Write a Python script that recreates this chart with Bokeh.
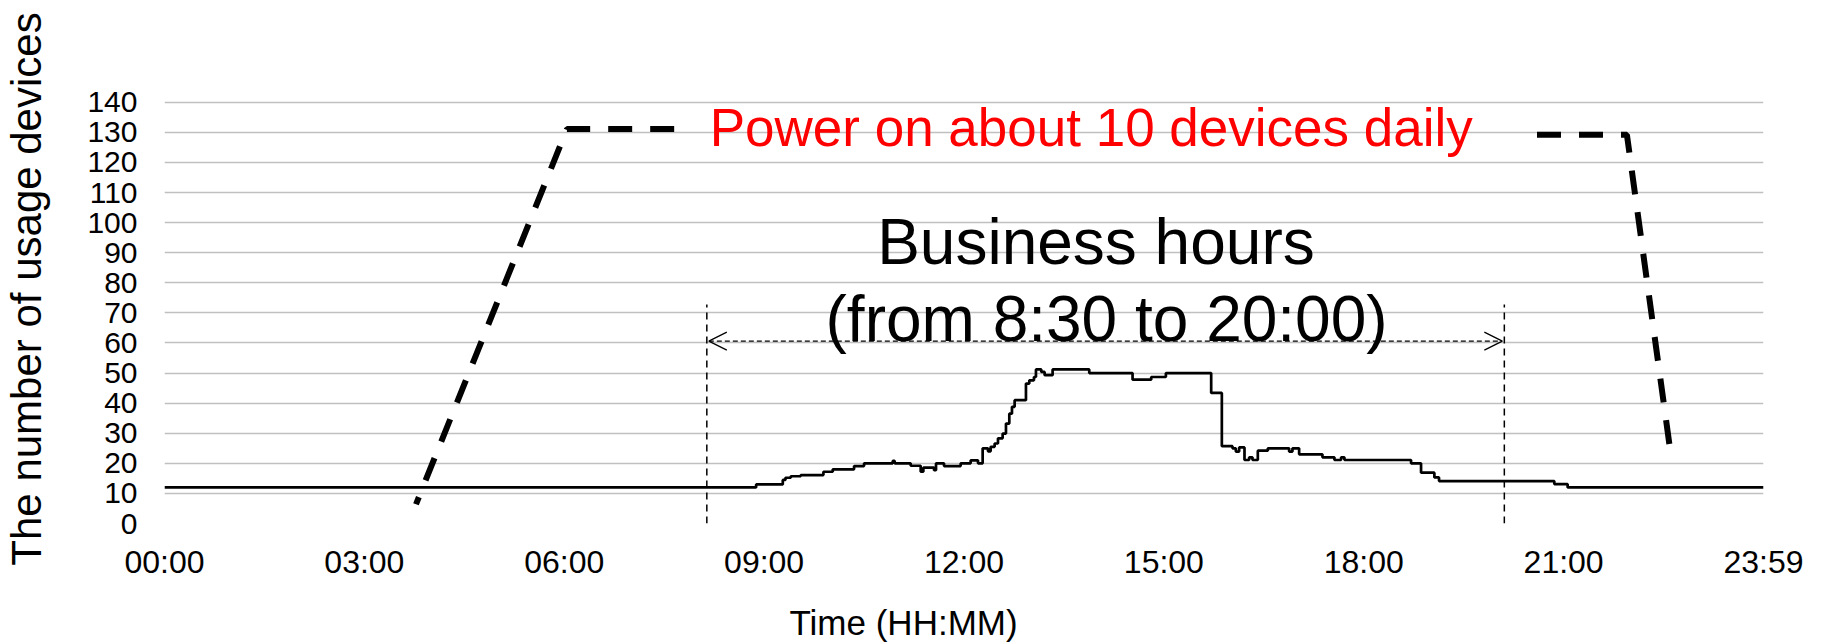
from bokeh.plotting import figure
from bokeh.models import (Range1d, FixedTicker, Label, Arrow, OpenHead, Title)
from bokeh.embed import file_html
from bokeh.resources import INLINE

# ---------------- data (hours, number of devices) ----------------
usage_hours = [0.00, 8.88, 9.28, 9.32, 9.40, 9.55, 9.89, 10.03, 10.35, 10.50,
               10.93, 10.96, 11.20, 11.35, 11.39, 11.55, 11.58, 11.70, 11.95,
               12.10, 12.21, 12.28, 12.36, 12.40, 12.46, 12.51, 12.58, 12.63,
               12.68, 12.72, 12.76, 12.93, 12.98, 13.05, 13.08, 13.16, 13.21,
               13.33, 13.88, 14.53, 14.81, 15.03, 15.71, 15.87, 16.03, 16.08,
               16.13, 16.21, 16.28, 16.33, 16.41, 16.56, 16.88, 16.93, 17.03,
               17.38, 17.56, 17.66, 17.71, 18.71, 18.86, 19.06, 19.13, 20.86,
               21.06, 24.00]
usage_devices = [12.0, 13.0, 14.5, 15.2, 15.7, 16.1, 17.2, 18.0, 19.1, 20.0,
                 20.8, 20.0, 19.2, 17.2, 18.6, 17.7, 20.0, 19.1, 20.0,
                 21.0, 20.0, 25.0, 24.0, 25.5, 26.6, 28.3, 29.9, 33.2,
                 36.5, 38.8, 41.0, 46.5, 47.6, 48.7, 51.2, 50.4, 49.3,
                 51.2, 50.0, 47.8, 48.7, 50.0, 43.4, 25.7, 25.0, 23.9,
                 25.3, 21.1, 22.0, 21.1, 24.2, 25.0, 23.9, 25.0, 23.0,
                 22.0, 21.1, 22.0, 21.1, 20.0, 16.9, 15.3, 14.1, 13.1,
                 12.0, 12.0]

# hand-drawn "power on" dashed guide lines
power_on_hours = [7.65, 6.04, 3.775]
power_on_devices = [131.1, 131.1, 6.4]
power_off_hours = [20.6, 21.95, 22.6]
power_off_devices = [129.2, 129.2, 24.3]

# business-hours annotation
business_lines_hours = [8.14, 20.11]
business_lines_top = 72.8
business_arrow_hours = [8.17, 20.08]
business_arrow_level = 60.6

x_tick_values = [0, 3, 6, 9, 12, 15, 18, 21, 24]
x_tick_labels = ["00:00", "03:00", "06:00", "09:00", "12:00", "15:00",
                 "18:00", "21:00", "23:59"]
y_tick_values = list(range(0, 141, 10))

power_text = "Power on about 10 devices daily"
business_text_1 = "Business hours"
business_text_2 = "(from 8:30 to 20:00)"
x_title = "Time (HH:MM)"
y_title = "The number of usage devices"

FONT = "Liberation Sans"

p = figure(width=1821, height=643, output_backend="svg", toolbar_location=None,
           x_range=Range1d(0, 24), y_range=Range1d(0, 155.9),
           min_border_left=164, min_border_right=58, min_border_top=54,
           min_border_bottom=119)
p.outline_line_color = None
p.background_fill_color = "white"
p.border_fill_color = "white"

# grid
p.xgrid.visible = False
p.ygrid.ticker = FixedTicker(ticks=y_tick_values)
p.ygrid.grid_line_color = "#c0c0c0"
p.ygrid.grid_line_width = 1.5

# x axis
xa = p.xaxis[0]
xa.ticker = FixedTicker(ticks=x_tick_values)
xa.major_label_overrides = {v: l for v, l in zip(x_tick_values, x_tick_labels)}
xa.axis_line_color = None
xa.major_tick_line_color = None
xa.minor_tick_line_color = None
xa.major_tick_out = 0
xa.major_label_standoff = 20
xa.major_label_text_font = FONT
xa.major_label_text_font_size = "32px"
xa.major_label_text_color = "black"

# y axis
ya = p.yaxis[0]
ya.ticker = FixedTicker(ticks=y_tick_values)
ya.axis_line_color = None
ya.major_tick_line_color = None
ya.minor_tick_line_color = None
ya.major_tick_out = 0
ya.major_label_standoff = 27
ya.major_label_text_font = FONT
ya.major_label_text_font_size = "30px"
ya.major_label_text_color = "black"
ya.axis_label = y_title
ya.axis_label_text_font = FONT
ya.axis_label_text_font_size = "42px"
ya.axis_label_text_font_style = "normal"
ya.axis_label_text_color = "black"
ya.axis_label_standoff = 34

# x axis title, shifted left of centre as in the original (spacer above it)
p.add_layout(Title(text=" ", text_font_size="1px", standoff=17), "below")
p.add_layout(Title(text=x_title, align="left", offset=625, standoff=0,
                   vertical_align="top",
                   text_font=FONT, text_font_size="35px",
                   text_font_style="normal", text_color="black"), "below")

# usage line
p.step(x=usage_hours, y=usage_devices, mode="after", line_color="black",
       line_width=2.7)

# dashed power guides
p.line(x=power_on_hours, y=power_on_devices, line_color="black", line_width=6,
       line_dash="24 18")
p.line(x=power_off_hours, y=power_off_devices, line_color="black", line_width=6,
       line_dash="24 18")

# business hours vertical lines
p.segment(x0=business_lines_hours, y0=[0, 0], x1=business_lines_hours,
          y1=[business_lines_top] * 2, line_color="black", line_width=1.5,
          line_dash="7 5")

p.add_layout(Arrow(start=OpenHead(size=18, line_width=1.3, line_color="black"),
                   end=OpenHead(size=18, line_width=1.3, line_color="black"),
                   x_start=business_arrow_hours[0], y_start=business_arrow_level,
                   x_end=business_arrow_hours[1], y_end=business_arrow_level,
                   line_color="black", line_width=1.3, line_dash="5 3"))

p.add_layout(Label(x=13.91, y=131.5, text=power_text, text_align="center",
                   text_baseline="alphabetic", text_font=FONT,
                   text_font_size="53px", text_color="#ff0000"))
p.add_layout(Label(x=13.98, y=93.5, text=business_text_1, text_align="center",
                   text_baseline="alphabetic", text_font=FONT,
                   text_font_size="64px", text_color="black"))
p.add_layout(Label(x=14.14, y=68.1, text=business_text_2, text_align="center",
                   text_baseline="alphabetic", text_font=FONT,
                   text_font_size="64px", text_color="black"))

open("out.html", "w").write(file_html(p, INLINE))
